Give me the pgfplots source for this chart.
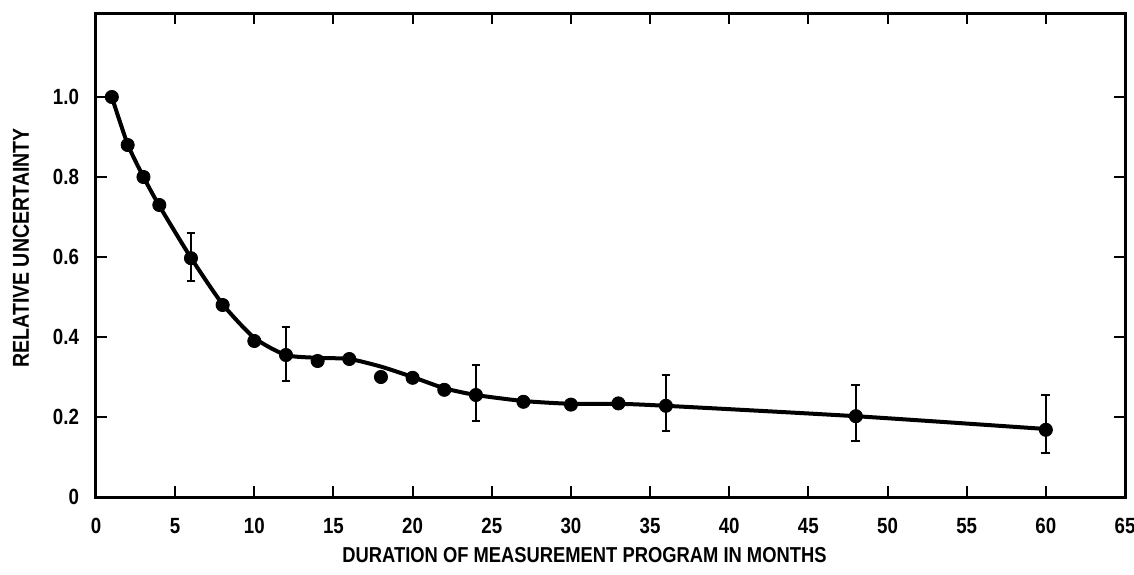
\documentclass[border=0pt]{standalone}
\usepackage{pgfplots}
\pgfplotsset{compat=1.18}
\usepackage{pgfplotstable}
\usepackage{fontspec}
\setmainfont{Liberation Sans}[FakeStretch=0.85]
\pgfplotstableread{
x y ep em
1 1.00 0 0
2 0.88 0 0
3 0.80 0 0
4 0.73 0 0
6 0.597 0.063 0.057
8 0.48 0 0
10 0.39 0 0
12 0.355 0.07 0.065
14 0.34 0 0
16 0.345 0 0
18 0.30 0 0
20 0.298 0 0
22 0.268 0 0
24 0.255 0.075 0.065
27 0.238 0 0
30 0.231 0 0
33 0.234 0 0
36 0.228 0.077 0.064
48 0.202 0.078 0.062
60 0.168 0.087 0.058
}\points
\pgfplotstableread{
x y
1 1.00
2 0.882
3 0.80
4 0.728
6 0.598
8 0.482
10 0.398
12 0.355
14 0.348
16 0.345
18 0.326
20 0.300
22 0.272
24 0.255
27 0.240
30 0.233
33 0.233
36 0.228
48 0.202
60 0.170
}\curve
\begin{document}
\begin{tikzpicture}
\begin{axis}[
  scale only axis, width=514.5pt, height=242pt,
  xmin=0, xmax=65, ymin=0, ymax=1.21,
  xtick={0,5,...,65},
  ytick={0,0.2,0.4,0.6,0.8,1.0},
  yticklabels={0,0.2,0.4,0.6,0.8,1.0},
  xtick pos=both, ytick pos=both,
  xticklabel pos=lower, yticklabel pos=left,
  tick align=inside, major tick length=5.5pt,
  tick style={black, line width=1pt},
  axis line style={line width=1.5pt},
  /pgf/number format/assume math mode=true,
  ticklabel style={font=\bfseries\fontsize{11}{11}\selectfont},
  xticklabel style={yshift=-7pt},
  yticklabel style={xshift=-5pt},
  xlabel={DURATION OF MEASUREMENT PROGRAM IN MONTHS},
  ylabel={RELATIVE UNCERTAINTY},
  xlabel style={font=\bfseries\fontsize{10.8}{11}\selectfont, xshift=-13pt},
  ylabel style={font=\bfseries\fontsize{11.5}{12}\selectfont, yshift=5pt, xshift=3.5pt},
  clip=false,
]
\addplot[black, line width=2pt, smooth, tension=0.4, no marks] table[x=x,y=y] {\curve};
\addplot[black, only marks, mark=*, mark size=3.3pt,
  error bars/.cd, y dir=both, y explicit,
  error mark=-,
  error bar style={line width=1pt, black},
  error mark options={rotate=90, line width=1pt, mark size=2.2pt, black}]
  table[x=x, y=y, y error plus=ep, y error minus=em] {\points};
\coordinate (sw) at (rel axis cs:0,0);
\coordinate (ne) at (rel axis cs:1,1);
\end{axis}
\pgfresetboundingbox
\path[use as bounding box] ([xshift=-48pt,yshift=-38.5pt]sw) rectangle ([xshift=4.5pt,yshift=6.5pt]ne);
\end{tikzpicture}
\end{document}
